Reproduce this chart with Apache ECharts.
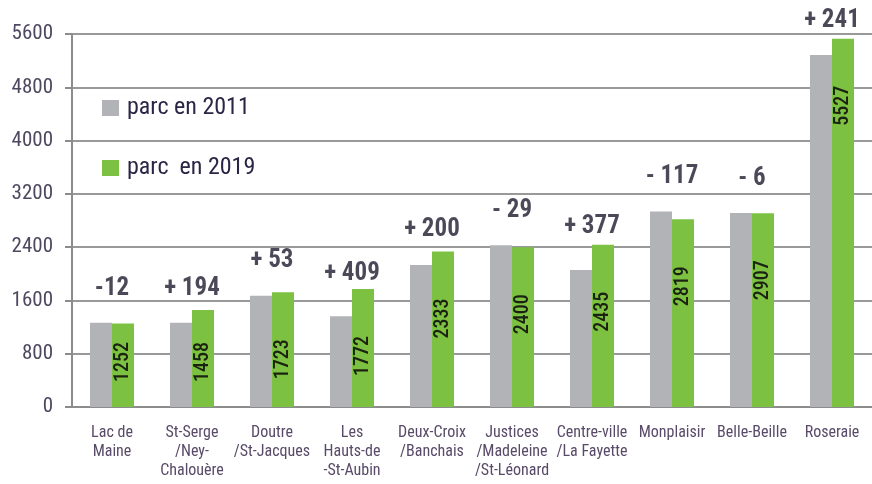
<!DOCTYPE html>
<html lang="fr">
<head>
<meta charset="utf-8">
<title>Parc de logements par quartier</title>
<script src="https://cdn.jsdelivr.net/npm/echarts@6/dist/echarts.min.js"></script>
<style>
  html, body { margin: 0; padding: 0; background: #fff; }
  #main { width: 872px; height: 484px; }
</style>
</head>
<body>
<div id="main"></div>
<script>
// quartiers (axe X)
var quartiers = ['Lac de\nMaine', 'St-Serge\n/Ney-\nChalouère', 'Doutre\n/St-Jacques', 'Les\nHauts-de\n-St-Aubin',
  'Deux-Croix\n/Banchais', 'Justices\n/Madeleine\n/St-Léonard', 'Centre-ville\n/La Fayette', 'Monplaisir', 'Belle-Beille', 'Roseraie'];
// parc en 2011 (barres grises)
var parc2011 = [1264, 1264, 1670, 1363, 2133, 2429, 2058, 2936, 2913, 5286];
// parc en 2019 (barres vertes)
var parc2019 = [1252, 1458, 1723, 1772, 2333, 2400, 2435, 2819, 2907, 5527];
// evolution 2011-2019
var evolution = [-12, 194, 53, 409, 200, -29, 377, -117, -6, 241];
// graduations de l'axe Y
var yTicks = [0, 800, 1600, 2400, 3200, 4000, 4800, 5600];

// écart entre le haut des barres et l'étiquette d'évolution (style)
var ecartEtiquette = [21, 8, 18, 2, 9, 21, 5, 22, 21, 5];

var police = "'Roboto Condensed', 'Liberation Sans Narrow', Roboto, sans-serif";

var chart = echarts.init(document.getElementById('main'));

var sommets = [];
for (var i = 0; i < quartiers.length; i++) {
  var e = evolution[i];
  sommets.push({
    value: Math.max(parc2011[i], parc2019[i]),
    label: {
      distance: ecartEtiquette[i],
      formatter: (e > 0 ? '+ ' : (i === 0 ? '-' : '- ')) + Math.abs(e)
    }
  });
}

var option = {
  animation: false,
  grid: { left: 72, top: 34, bottom: 77, right: -10 },
  legend: {
    orient: 'vertical',
    left: 97,
    top: 91,
    itemWidth: 17,
    itemHeight: 16,
    itemGap: 36,
    icon: 'rect',
    textStyle: { fontFamily: police, fontSize: 24, color: '#2b2545', padding: [0, 0, 0, 3] },
    data: ['parc en 2011', 'parc  en 2019']
  },
  xAxis: {
    type: 'category',
    data: quartiers,
    axisLine: { lineStyle: { color: '#8c8c8c', width: 2 } },
    axisTick: { length: 7, lineStyle: { color: '#8c8c8c', width: 2 } },
    axisLabel: {
      interval: 0,
      margin: 16,
      fontFamily: police,
      fontSize: 16,
      lineHeight: 19,
      color: '#584a68'
    }
  },
  yAxis: {
    type: 'value',
    min: yTicks[0],
    max: yTicks[yTicks.length - 1],
    interval: 800,
    axisLine: { show: true, lineStyle: { color: '#8c8c8c', width: 2 } },
    axisTick: { show: true, length: 7, lineStyle: { color: '#8c8c8c', width: 2 } },
    splitLine: { lineStyle: { color: '#999999', width: 2 } },
    axisLabel: {
      margin: 19,
      fontFamily: police,
      fontSize: 21,
      color: '#4e4860',
      formatter: function (v) { return String(v); }
    }
  },
  series: [
    {
      name: 'parc en 2011',
      type: 'bar',
      barWidth: 22,
      barGap: '0%',
      itemStyle: { color: '#b2b3b7' },
      data: parc2011
    },
    {
      name: 'parc  en 2019',
      type: 'bar',
      barWidth: 22,
      barGap: '0%',
      itemStyle: { color: '#7cc142' },
      label: {
        show: true,
        rotate: 90,
        fontFamily: police,
        fontSize: 20,
        fontWeight: 500,
        color: '#1b2212'
      },
      labelLayout: function (p) {
        var r = p.rect;
        return {
          x: r.x + r.width / 2,
          y: Math.min(r.y + 67, r.y + r.height - 45),
          align: 'center',
          verticalAlign: 'middle'
        };
      },
      data: parc2019
    },
    {
      name: 'evolution',
      type: 'scatter',
      symbolSize: 1,
      itemStyle: { color: 'rgba(0,0,0,0)' },
      label: {
        show: true,
        position: 'top',
        fontFamily: police,
        fontSize: 25,
        fontWeight: 'bold',
        color: '#1e1a2e'
      },
      data: sommets
    }
  ]
};
chart.setOption(option);
</script>
</body>
</html>
